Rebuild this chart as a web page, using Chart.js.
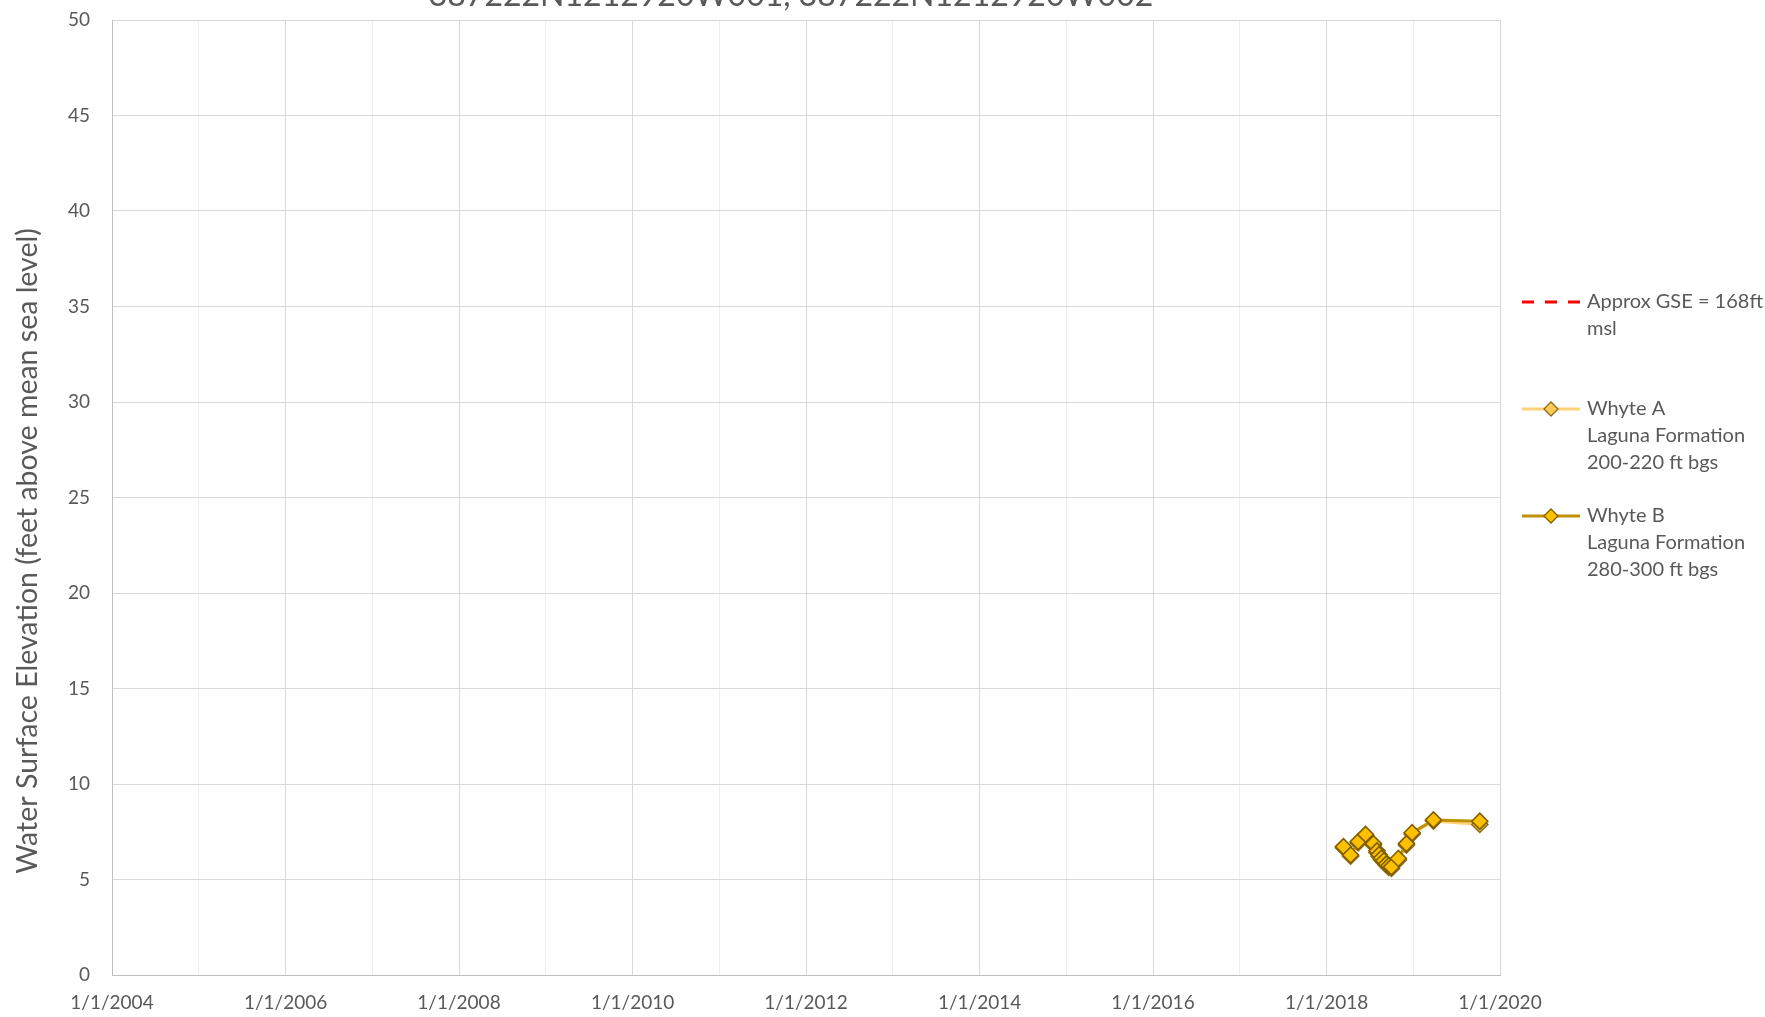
<!DOCTYPE html>
<html>
<head>
<meta charset="utf-8">
<script src="https://cdn.jsdelivr.net/npm/chart.js@4"></script>
<style>
  body { margin: 0; background: #fff; }
  canvas { display: block; }
</style>
</head>
<body>
<canvas id="chart" width="1765" height="1017"></canvas>
<script>
const chartTitle = '387222N1212920W001, 387222N1212920W002';
const yAxisTitle = 'Water Surface Elevation (feet above mean sea level)';

const tickYears = [2004, 2005, 2006, 2007, 2008, 2009, 2010, 2011, 2012,
    2013, 2014, 2015, 2016, 2017, 2018, 2019, 2020];
const yTicks = [0, 5, 10, 15, 20, 25, 30, 35, 40, 45, 50];

const sampleDates = [
    '2018-03-13', '2018-04-12', '2018-05-14', '2018-06-14', '2018-07-17',
    '2018-08-01', '2018-08-10', '2018-08-20', '2018-08-30', '2018-09-10',
    '2018-09-20', '2018-10-01', '2018-10-30', '2018-12-03', '2018-12-27',
    '2019-03-27', '2019-10-08'
];
const whyteA = [6.66, 6.22, 6.92, 7.30, 6.80, 6.42, 6.22, 6.04, 5.90, 5.75,
    5.64, 5.58, 6.02, 6.80, 7.38, 8.06, 7.88];
const whyteB = [6.72, 6.28, 6.98, 7.36, 6.88, 6.50, 6.30, 6.12, 5.98, 5.82,
    5.72, 5.66, 6.10, 6.88, 7.45, 8.12, 8.05];

const gseDates = ['2004-01-01', '2020-01-01'];
const gseValues = [168, 168];

const gseLabel = ['Approx GSE = 168ft', 'msl'];
const whyteALabel = ['Whyte A', 'Laguna Formation', '200-220 ft bgs'];
const whyteBLabel = ['Whyte B', 'Laguna Formation', '280-300 ft bgs'];

const textColor = '#595959';
const fontFamily = 'Lato, "Open Sans", sans-serif';

function toPoints(dates, values) {
    return dates.map((d, i) => ({ x: Date.parse(d), y: values[i] }));
}

function drawDiamond(ctx, x, y, r, fill, stroke, lw) {
    ctx.beginPath();
    ctx.moveTo(x, y - r);
    ctx.lineTo(x + r, y);
    ctx.lineTo(x, y + r);
    ctx.lineTo(x - r, y);
    ctx.closePath();
    ctx.fillStyle = fill;
    ctx.fill();
    ctx.lineWidth = lw;
    ctx.strokeStyle = stroke;
    ctx.stroke();
}

// titles + legend on the right, drawn by hand
const extrasPlugin = {
    id: 'extras',
    afterDraw(chart) {
        const ctx = chart.ctx;
        ctx.save();
        ctx.fillStyle = textColor;
        ctx.font = '32px ' + fontFamily;
        ctx.textAlign = 'center';
        ctx.textBaseline = 'alphabetic';
        ctx.fillText(chartTitle, 791, 6);

        ctx.translate(28, 551);
        ctx.rotate(-Math.PI / 2);
        ctx.font = '28.5px ' + fontFamily;
        ctx.textBaseline = 'middle';
        ctx.fillText(yAxisTitle, 0, 0);
        ctx.restore();

        const rows = [302, 409, 516];
        chart.data.datasets.forEach((ds, i) => {
            const y = rows[i];
            ctx.save();
            ctx.strokeStyle = ds.borderColor;
            ctx.lineWidth = ds.borderWidth;
            ctx.setLineDash(ds.borderDash || []);
            ctx.beginPath();
            ctx.moveTo(1522, y);
            ctx.lineTo(1580, y);
            ctx.stroke();
            ctx.setLineDash([]);
            if (ds.pointRadius) {
                drawDiamond(ctx, 1551, y, 7, ds.pointBackgroundColor, ds.pointBorderColor, 1.3);
            }
            ctx.fillStyle = textColor;
            ctx.font = '20px ' + fontFamily;
            ctx.textAlign = 'left';
            ctx.textBaseline = 'middle';
            ds.legendLines.forEach((t, j) => ctx.fillText(t, 1587, y + j * 27));
            ctx.restore();
        });
    }
};

const ctx = document.getElementById('chart').getContext('2d');
new Chart(ctx, {
    type: 'line',
    data: {
        datasets: [{
            label: gseLabel.join(' '),
            legendLines: gseLabel,
            data: toPoints(gseDates, gseValues),
            borderColor: '#FF0000',
            borderWidth: 3,
            borderDash: [12, 11],
            pointRadius: 0,
            order: 3
        }, {
            label: whyteALabel.join(' '),
            legendLines: whyteALabel,
            data: toPoints(sampleDates, whyteA),
            borderColor: '#FFD27A',
            borderWidth: 3,
            pointStyle: 'rectRot',
            pointRadius: 8,
            pointBackgroundColor: '#FFCC5C',
            pointBorderColor: '#8C6A14',
            pointBorderWidth: 1.6,
            order: 2
        }, {
            label: whyteBLabel.join(' '),
            legendLines: whyteBLabel,
            data: toPoints(sampleDates, whyteB),
            borderColor: '#BF9000',
            borderWidth: 3,
            pointStyle: 'rectRot',
            pointRadius: 8,
            pointBackgroundColor: '#FFC000',
            pointBorderColor: '#7F6000',
            pointBorderWidth: 1.6,
            order: 1
        }]
    },
    options: {
        responsive: false,
        animation: false,
        events: [],
        layout: {
            padding: { left: 0, right: 265, top: 20, bottom: 0 }
        },
        plugins: {
            legend: { display: false },
            tooltip: { enabled: false }
        },
        elements: {
            line: { tension: 0 }
        },
        scales: {
            x: {
                type: 'linear',
                min: Date.UTC(tickYears[0], 0, 1),
                max: Date.UTC(tickYears[tickYears.length - 1], 0, 1),
                afterBuildTicks: (scale) => {
                    scale.ticks = tickYears.map(y => ({ value: Date.UTC(y, 0, 1) }));
                },
                afterFit: (scale) => {
                    scale.height = 42;
                    scale.paddingLeft = 0;
                    scale.paddingRight = 0;
                },
                grid: {
                    drawTicks: false,
                    lineWidth: 1,
                    color: (c) => {
                        const yr = new Date(c.tick.value).getUTCFullYear();
                        return yr % 2 === 0 ? '#D9D9D9' : '#EEEEEE';
                    }
                },
                border: { color: '#BFBFBF', width: 1 },
                ticks: {
                    autoSkip: false,
                    maxRotation: 0,
                    padding: 16,
                    color: textColor,
                    font: { family: fontFamily, size: 19 },
                    callback: (v) => {
                        const yr = new Date(v).getUTCFullYear();
                        return yr % 2 === 0 ? '1/1/' + yr : '';
                    }
                }
            },
            y: {
                min: yTicks[0],
                max: yTicks[yTicks.length - 1],
                afterBuildTicks: (scale) => {
                    scale.ticks = yTicks.map(v => ({ value: v }));
                },
                afterFit: (scale) => {
                    scale.width = 112;
                    scale.paddingTop = 0;
                    scale.paddingBottom = 0;
                },
                grid: {
                    drawTicks: false,
                    color: '#D9D9D9',
                    lineWidth: 1
                },
                border: { color: '#BFBFBF', width: 1 },
                ticks: {
                    padding: 22,
                    color: textColor,
                    font: { family: fontFamily, size: 19 }
                }
            }
        }
    },
    plugins: [extrasPlugin]
});
</script>
</body>
</html>
